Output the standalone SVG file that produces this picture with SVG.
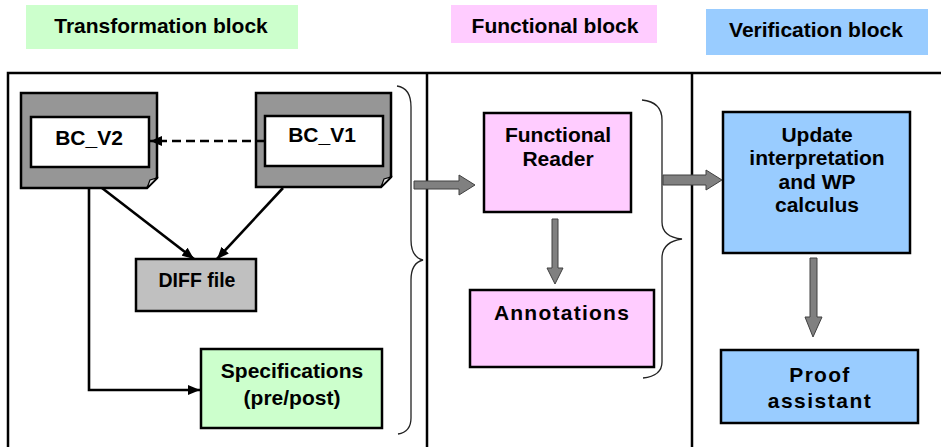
<svg xmlns="http://www.w3.org/2000/svg" width="941" height="447" viewBox="0 0 941 447">
<defs>
<style>
text{font-family:"Liberation Sans",Arial,sans-serif;font-weight:bold;font-size:21px;fill:#000;text-anchor:middle}
.frame{fill:none;stroke:#000;stroke-width:2.5}
.box{stroke:#000;stroke-width:2.5}
.line{fill:none;stroke:#000;stroke-width:2.6}
.brace{fill:none;stroke:#222;stroke-width:1.3}
.blk{fill:#808080;stroke:#404040;stroke-width:1}
</style>
<marker id="ah" viewBox="0 0 12 10" refX="12" refY="5" markerWidth="12" markerHeight="10" markerUnits="userSpaceOnUse" orient="auto">
<path d="M0,0 L12,5 L0,10 Z" fill="#000"/>
</marker>
</defs>
<rect width="941" height="447" fill="#fff"/>

<g id="titles">
<rect x="26" y="5" width="272" height="44" fill="#ccffcc"/>
<text x="161" y="33">Transformation block</text>
<rect x="451" y="5" width="206" height="38" fill="#ffccff"/>
<text x="555" y="33">Functional block</text>
<rect x="706" y="9" width="222" height="46" fill="#99ccff"/>
<text x="816" y="37">Verification block</text>
</g>

<g id="frame">
<rect class="frame" x="8" y="73" width="940" height="400"/>
<line class="frame" x1="427" y1="73" x2="427" y2="447"/>
<line class="frame" x1="692" y1="73" x2="692" y2="447"/>
</g>

<g id="bc_v2">
<path class="box" d="M21,93 H157 V178 L147,188 H21 Z" fill="#969696"/>
<path d="M147,188 L150,180 L157,178 Z" fill="#e0e0e0" stroke="#000" stroke-width="1.2"/>
<rect class="box" x="31" y="117" width="118" height="50" fill="#fff" stroke-width="1.8"/>
<text x="89" y="145">BC_V2</text>
</g>

<g id="bc_v1">
<path class="box" d="M256,93 H391 V177 L381,187 H256 Z" fill="#969696"/>
<path d="M381,187 L384,179 L391,177 Z" fill="#e0e0e0" stroke="#000" stroke-width="1.2"/>
<rect class="box" x="265" y="116" width="118" height="50" fill="#fff" stroke-width="1.8"/>
<text x="322" y="142">BC_V1</text>
</g>

<g id="diff">
<rect class="box" x="136" y="259" width="120" height="52" fill="#c0c0c0"/>
<text x="197" y="287" style="font-size:19.5px">DIFF file</text>
</g>

<g id="specs">
<rect class="box" x="201" y="349" width="181" height="79" fill="#ccffcc"/>
<text x="292" y="378">Specifications</text>
<text x="292" y="405">(pre/post)</text>
</g>

<g id="reader">
<rect class="box" x="484" y="113" width="147" height="99" fill="#ffccff"/>
<text x="558" y="142">Functional</text>
<text x="558" y="166">Reader</text>
</g>

<g id="annotations">
<rect class="box" x="470" y="290" width="184" height="77" fill="#ffccff"/>
<text x="562" y="320" style="letter-spacing:1.25px">Annotations</text>
</g>

<g id="update">
<rect class="box" x="723" y="112" width="187" height="141" fill="#99ccff"/>
<text x="817" y="142">Update</text>
<text x="817" y="165">interpretation</text>
<text x="817" y="189">and WP</text>
<text x="817" y="212">calculus</text>
</g>

<g id="proof">
<rect class="box" x="721" y="350" width="197" height="73" fill="#99ccff"/>
<text x="820" y="382" style="letter-spacing:1.3px">Proof</text>
<text x="820" y="408" style="letter-spacing:1.5px">assistant</text>
</g>

<g id="connectors">
<line class="line" x1="265" y1="141" x2="150" y2="141" stroke-dasharray="9,5" stroke-width="3" marker-end="url(#ah)"/>
<line class="line" x1="102" y1="188" x2="194" y2="259" marker-end="url(#ah)"/>
<line class="line" x1="283" y1="188" x2="217" y2="259" marker-end="url(#ah)"/>
<polyline class="line" points="89,188 89,390 200,390" marker-end="url(#ah)"/>
<path class="brace" d="M397,86 Q411,88 411,107 V240 Q411,257 423,260 Q411,263 411,280 V418 Q411,432 398,434"/>
<path class="brace" d="M642,100 Q662,102 662,120 V222 Q662,237 682,239 Q662,242 662,258 V362 Q662,376 643,378"/>
<path class="blk" d="M414,181 H459 V175 L475,185 L459,195 V189 H414 Z"/>
<path class="blk" d="M663,175 H706 V170 L722,180 L706,190 V185 H663 Z"/>
<path class="blk" d="M552,219 H558 V268 H563 L555,284 L547,268 H552 Z"/>
<path class="blk" d="M810,258 H817 V317 H822 L813,337 L805,317 H810 Z"/>
</g>
</svg>
